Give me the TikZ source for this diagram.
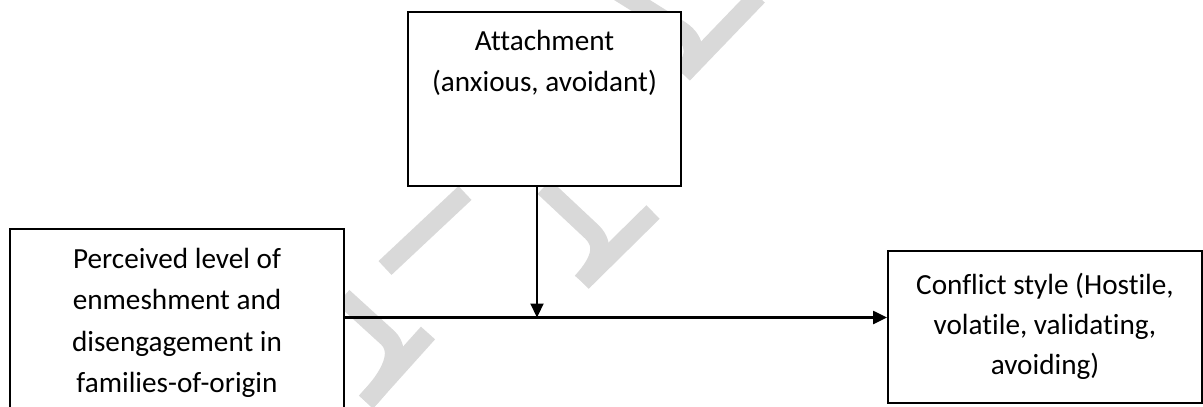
\documentclass[tikz,border=0pt]{standalone}
\usepackage{fontspec}
\setmainfont[Ligatures={NoCommon}]{Carlito}
\usetikzlibrary{arrows.meta}
\begin{document}
\begin{tikzpicture}[x=1pt,y=-1pt,
  box/.style={draw=black, line width=1.8pt, fill=white, rectangle, inner sep=0pt},
  lbl/.style={align=center, font=\fontsize{29.2}{41.5}\selectfont, inner sep=0pt, anchor=base},
  conn/.style={line width=2.2pt, -{Triangle[length=14pt,width=13pt]}},
  wm/.style={draw=black!15, line width=19pt, line cap=butt, line join=round}]
\useasboundingbox (0,0) rectangle (1203,407);
\clip (0,0) rectangle (1203,407);
% watermark (light grey, behind the boxes)
\draw[wm] (343,297) -- (388,338) .. controls (402,352) and (392,375) .. (366,402);
\draw[wm] (366,402) -- (428,333);
\draw[wm] (385,268) -- (465,193);
\draw[wm] (544,187) -- (592,232) .. controls (606,246) and (600,262) .. (582,282);
\draw[wm] (582,282) -- (653,212);
\draw[wm] (600,-20) -- (680,30) .. controls (698,42) and (696,58) .. (683,74);
\draw[wm] (683,74) -- (758,-4);
% boxes
\node[box, minimum width=273pt, minimum height=174pt] (att) at (544.5,99) {};
\node[box, minimum width=334pt, minimum height=201pt] (src) at (177,329.5) {};
\node[box, minimum width=314pt, minimum height=152pt] (dst) at (1045,327) {};
% texts (anchor = baseline of the last line)
\node[lbl] (attT) at (544.5,91.5) {Attachment\\(anxious, avoidant)};
\node[lbl] (srcT) at (177,392.5) {Perceived level of\\enmeshment and\\disengagement in\\families-of-origin};
\node[lbl, font=\fontsize{29.2}{40}\selectfont] (dstT) at (1045,374) {Conflict style (Hostile,\\volatile, validating,\\avoiding)};
% connectors
\coordinate (j) at (537,317.5);
\draw[conn] (att.south -| j) -- (j);
\draw[conn] (src.east |- j) -- (dst.west |- j);
\end{tikzpicture}
\end{document}
